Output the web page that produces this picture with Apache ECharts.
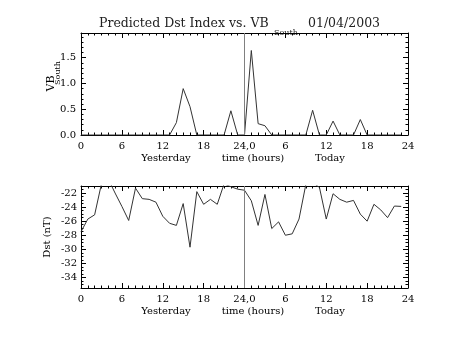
<!DOCTYPE html>
<html>
<head>
<meta charset="utf-8">
<script src="https://cdn.jsdelivr.net/npm/echarts@6/dist/echarts.min.js"></script>
<style>
html,body{margin:0;padding:0;background:#fff;}
#chart{width:453px;height:340px;}
</style>
</head>
<body>
<div id="chart"></div>
<script>
// hours since start of "yesterday"
const hours = [0,1,2,3,4,5,6,7,8,9,10,11,12,13,14,15,16,17,18,19,20,21,22,23,
               24,25,26,27,28,29,30,31,32,33,34,35,36,37,38,39,40,41,42,43,44,45,46,47];
// VB south (top panel)
const vbSouth = [0,0,0,0,0,0,0,0,0,0,0,0,0,0,0.24,0.90,0.55,0,0,0,0,0,0.47,0,
                 0,1.64,0.22,0.18,0,0,0,0,0,0,0.48,0,0,0.27,0,0,0,0.30,0,0,0,0,0,0];
// predicted Dst (bottom panel)
const dst = [-27.5,-25.7,-25.1,-20.7,-20.0,-22.0,-23.9,-25.9,-21.3,-22.8,-22.9,-23.3,
             -25.3,-26.3,-26.6,-23.5,-29.7,-21.8,-23.6,-22.9,-23.6,-20.7,-21.1,-21.45,
             -21.6,-23.1,-26.6,-22.2,-27.05,-26.1,-28.0,-27.8,-25.7,-20.8,-20.5,-21.2,
             -25.7,-22.1,-22.9,-23.3,-23.05,-25.0,-26.0,-23.6,-24.4,-25.5,-23.85,-23.9];
const xTickLabels = ['0','6','12','18','24,0','6','12','18','24'];
const dstTicks = [-34,-32,-30,-28,-26,-24,-22];
const dstMinorTicks = [-35,-34.5,-33.5,-33,-32.5,-31.5,-31,-30.5,-29.5,-29,-28.5,-27.5,-27,
                       -26.5,-25.5,-25,-24.5,-23.5,-23,-22.5,-21.5];
const dayBoundary = 24;

const FF = '"DejaVu Serif", "Liberation Serif", serif';
const chart = echarts.init(document.getElementById('chart'), null, {renderer:'canvas'});

function xAxisDef(gi, pos, showLabel){
  return {
    type:'value', gridIndex:gi, position:pos, min:0, max:48, interval:6,
    axisLine:{show:true, onZero:false, lineStyle:{color:'#000', width:1}},
    axisTick:{show:true, inside:true, length:5, lineStyle:{color:'#000'}},
    minorTick:{show:true, splitNumber:6, length:2.5, lineStyle:{color:'#000'}},
    splitLine:{show:false},
    axisLabel:{show:showLabel, margin:6, color:'#000', fontFamily:FF, fontSize:10,
      formatter:function(v){ return xTickLabels[Math.round(v/6)]; }}
  };
}
function vbAxisDef(pos, showLabel){
  return {
    type:'value', gridIndex:0, position:pos, min:0, max:1.98, interval:0.5,
    axisLine:{show:true, onZero:false, lineStyle:{color:'#000', width:1}},
    axisTick:{show:true, inside:true, length:5, lineStyle:{color:'#000'}},
    minorTick:{show:true, splitNumber:5, length:2.5, lineStyle:{color:'#000'}},
    splitLine:{show:false},
    axisLabel:{show:showLabel, margin:5, color:'#000', fontFamily:FF, fontSize:10,
      showMaxLabel:false, formatter:function(v){ return v.toFixed(1); }}
  };
}
function dstAxisDef(pos, showLabel, ticks, len, showLine){
  return {
    type:'value', gridIndex:1, position:pos, min:-35.5, max:-21,
    axisLine:{show:showLine, onZero:false, lineStyle:{color:'#000', width:1}},
    axisTick:{show:true, inside:true, length:len, customValues:ticks, lineStyle:{color:'#000'}},
    splitLine:{show:false},
    axisLabel:{show:showLabel, margin:4, color:'#000', fontFamily:FF, fontSize:10,
      customValues:ticks, formatter:function(v){ return String(Math.round(v)); }}
  };
}

const vbData = hours.map((h,i)=>[h, vbSouth[i]]);
const dstData = hours.map((h,i)=>[h, dst[i]]);
const boundaryLine = {
  silent:true, symbol:['none','none'], label:{show:false},
  lineStyle:{color:'#808080', width:1, type:'solid'},
  data:[{xAxis:dayBoundary}]
};

chart.setOption({
  animation:false,
  backgroundColor:'#fff',
  grid:[
    {left:81, top:33, width:327, height:102},
    {left:81, top:186, width:327, height:102}
  ],
  xAxis:[
    xAxisDef(0,'bottom',true), xAxisDef(0,'top',false),
    xAxisDef(1,'bottom',true), xAxisDef(1,'top',false)
  ],
  yAxis:[
    vbAxisDef('left',true), vbAxisDef('right',false),
    dstAxisDef('left',true,dstTicks,5,true), dstAxisDef('right',false,dstTicks,5,true),
    dstAxisDef('left',false,dstMinorTicks,2.5,false), dstAxisDef('right',false,dstMinorTicks,2.5,false)
  ],
  series:[
    {type:'line', xAxisIndex:0, yAxisIndex:0, data:vbData, symbol:'none', clip:true,
     lineStyle:{color:'#333', width:1}, markLine:boundaryLine},
    {type:'line', xAxisIndex:2, yAxisIndex:2, data:dstData, symbol:'none', clip:true,
     lineStyle:{color:'#333', width:1}, markLine:boundaryLine}
  ],
  graphic:[
    {type:'text', x:99, y:24, style:{text:'Predicted Dst Index vs. VB', font:'12.5px '+FF, fill:'#222', align:'left', verticalAlign:'middle'}},
    {type:'text', x:274, y:32.5, style:{text:'South', font:'8px '+FF, fill:'#222', align:'left', verticalAlign:'middle'}},
    {type:'text', x:308, y:24, style:{text:'01/04/2003', font:'12.5px '+FF, fill:'#222', align:'left', verticalAlign:'middle'}},
    {type:'text', x:166, y:158, style:{text:'Yesterday', font:'10px '+FF, fill:'#000', align:'center', verticalAlign:'middle'}},
    {type:'text', x:253, y:158, style:{text:'time (hours)', font:'10px '+FF, fill:'#000', align:'center', verticalAlign:'middle'}},
    {type:'text', x:330, y:158, style:{text:'Today', font:'10px '+FF, fill:'#000', align:'center', verticalAlign:'middle'}},
    {type:'text', x:166, y:311, style:{text:'Yesterday', font:'10px '+FF, fill:'#000', align:'center', verticalAlign:'middle'}},
    {type:'text', x:253, y:311, style:{text:'time (hours)', font:'10px '+FF, fill:'#000', align:'center', verticalAlign:'middle'}},
    {type:'text', x:330, y:311, style:{text:'Today', font:'10px '+FF, fill:'#000', align:'center', verticalAlign:'middle'}},
    {type:'text', x:51.5, y:83.5, rotation:Math.PI/2, style:{text:'VB', font:'11px '+FF, fill:'#000', align:'center', verticalAlign:'middle'}},
    {type:'text', x:57.5, y:73, rotation:Math.PI/2, style:{text:'South', font:'8px '+FF, fill:'#000', align:'center', verticalAlign:'middle'}},
    {type:'text', x:47.5, y:237, rotation:Math.PI/2, style:{text:'Dst (nT)', font:'10px '+FF, fill:'#000', align:'center', verticalAlign:'middle'}}
  ]
});
</script>
</body>
</html>
